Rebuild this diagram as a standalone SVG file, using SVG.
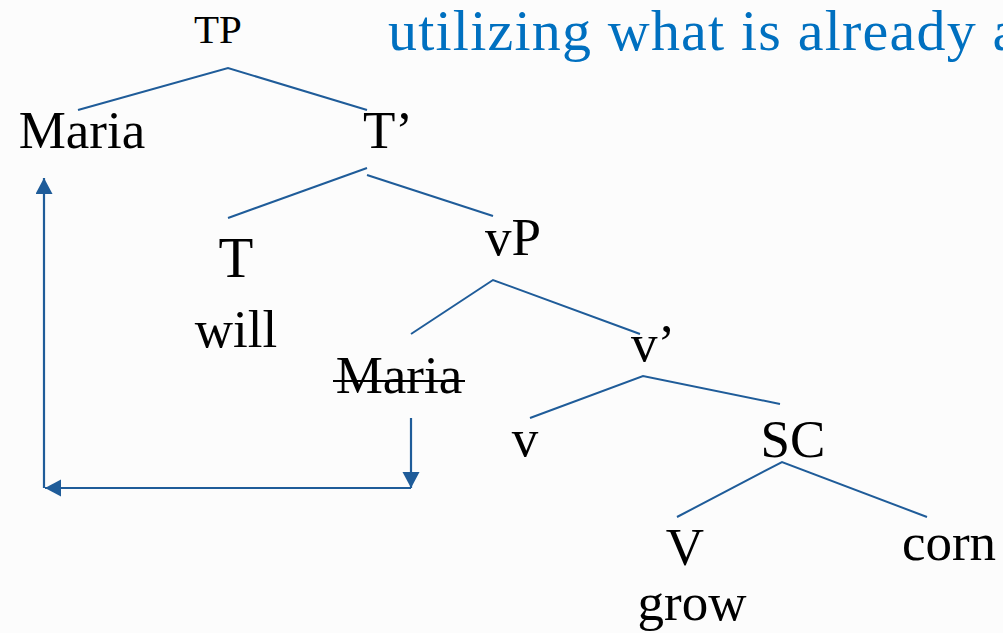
<svg xmlns="http://www.w3.org/2000/svg" width="1003" height="633" viewBox="0 0 1003 633">
<style>
.t{font-family:"Liberation Serif","Times New Roman",serif;fill:#000;font-size:53px;text-anchor:middle}
.e{stroke:#1f5c99;stroke-width:2;fill:none}
.a{stroke:#1f5c99;stroke-width:2.2;fill:none}
.title{font-family:"Liberation Serif","Times New Roman",serif;fill:#0070c0;font-size:58px;letter-spacing:1.2px}
</style>
<defs>
<marker id="ah" markerUnits="userSpaceOnUse" markerWidth="18" markerHeight="18" refX="16" refY="8.5" orient="auto">
<path d="M0,0 L16,8.5 L0,17 Z" fill="#1f5c99"/>
</marker>
</defs>
<rect width="1003" height="633" fill="#fcfcfc"/>
<text class="title" x="388" y="50">utilizing what is already a</text>
<g id="edges">
<polyline class="e" points="78,110 228,68 367,110"/>
<line class="e" x1="228" y1="218" x2="367" y2="168"/>
<line class="e" x1="367" y1="175" x2="493" y2="216"/>
<polyline class="e" points="411,334 493,280 640,334"/>
<polyline class="e" points="530,418 643,376 780,404"/>
<polyline class="e" points="677,517 782,462 927,517"/>
</g>
<g id="movement">
<line class="a" x1="411" y1="418" x2="411" y2="488" marker-end="url(#ah)"/>
<line class="a" x1="411" y1="488" x2="45" y2="488" marker-end="url(#ah)"/>
<line class="a" x1="44" y1="488" x2="44" y2="178" marker-end="url(#ah)"/>
</g>
<g id="n-TP"><text class="t" x="218" y="43" style="font-size:41px">TP</text></g>
<g id="n-Maria"><text class="t" x="82" y="148">Maria</text></g>
<g id="n-Tbar"><text class="t" x="388" y="148">T’</text></g>
<g id="n-T"><text class="t" x="236" y="277" style="font-size:57px">T</text><text class="t" x="236" y="347">will</text></g>
<g id="n-vP"><text class="t" x="513" y="255">vP</text></g>
<g id="n-Maria2"><text class="t" x="399" y="393">Maria</text><line x1="333" y1="381" x2="465" y2="381" stroke="#000" stroke-width="2.2"/></g>
<g id="n-vbar"><text class="t" x="653" y="361">v’</text></g>
<g id="n-v"><text class="t" x="525" y="456">v</text></g>
<g id="n-SC"><text class="t" x="793" y="457">SC</text></g>
<g id="n-V"><text class="t" x="685" y="565">V</text><text class="t" x="692" y="620">grow</text></g>
<g id="n-corn"><text class="t" x="949" y="560">corn</text></g>
</svg>
